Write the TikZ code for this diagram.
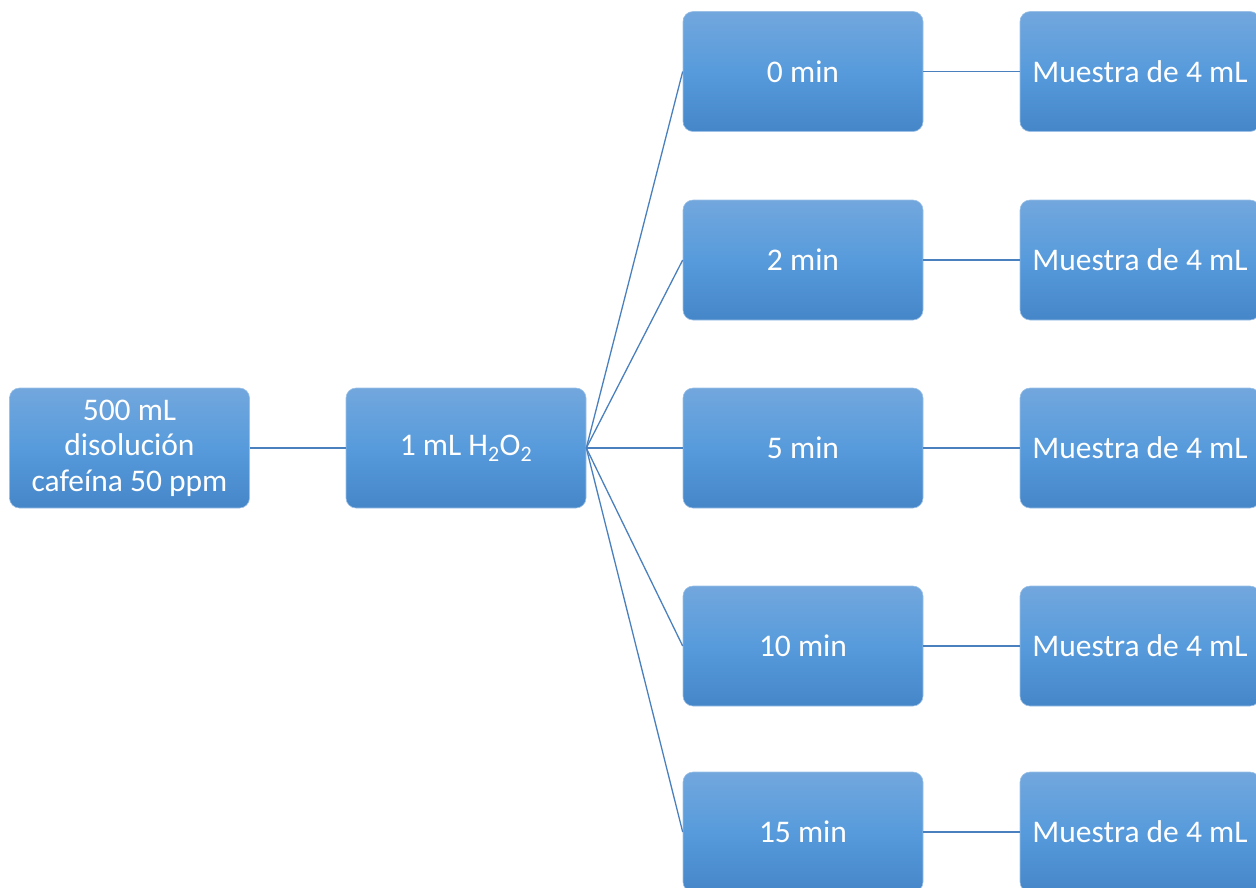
\documentclass[tikz,border=0pt]{standalone}
\usepackage{fontspec}
\setmainfont{Carlito}
\definecolor{boxtop}{HTML}{72A7DD}
\definecolor{boxmid}{HTML}{579BDC}
\definecolor{boxbot}{HTML}{4586C8}
\definecolor{boxedge}{HTML}{9CC0E6}
\definecolor{linkcol}{HTML}{4A80BE}
\begin{document}
\begin{tikzpicture}[x=1pt,y=-1pt,
  stepbox/.style={rectangle, rounded corners=10pt, minimum width=240pt, minimum height=120pt,
    inner sep=0pt, top color=boxtop, bottom color=boxbot, middle color=boxmid,
    draw=boxedge, line width=0.6pt, text=white, align=center,
    font=\fontsize{31.5}{35.5}\selectfont},
  link/.style={draw=linkcol, line width=1.3pt}]
\useasboundingbox (0,0) rectangle (1256,887);
\clip (0,0) rectangle (1256,887);

% source and reagent
\node[stepbox] (src) at (129.5,448) {500 mL\\disolución\\cafeína 50 ppm};
\node[stepbox] (h2o2) at (466,448) {1 mL H\textsubscript{2}O\textsubscript{2}};

% sampling times
\node[stepbox] (t0)  at (803,71.5) {0 min};
\node[stepbox] (t2)  at (803,260)  {2 min};
\node[stepbox] (t5)  at (803,448)  {5 min};
\node[stepbox] (t10) at (803,646)  {10 min};
\node[stepbox] (t15) at (803,832)  {15 min};

% samples
\node[stepbox] (m0)  at (1140,71.5) {Muestra de 4 mL};
\node[stepbox] (m2)  at (1140,260)  {Muestra de 4 mL};
\node[stepbox] (m5)  at (1140,448)  {Muestra de 4 mL};
\node[stepbox] (m10) at (1140,646)  {Muestra de 4 mL};
\node[stepbox] (m15) at (1140,832)  {Muestra de 4 mL};

% connectors
\draw[link] (src.east) -- (h2o2.west);
\foreach \t in {t0,t2,t5,t10,t15}
  \draw[link] (h2o2.east) -- (\t.west);
\foreach \t/\m in {t0/m0,t2/m2,t5/m5,t10/m10,t15/m15}
  \draw[link] (\t.east) -- (\m.west);
\end{tikzpicture}
\end{document}
